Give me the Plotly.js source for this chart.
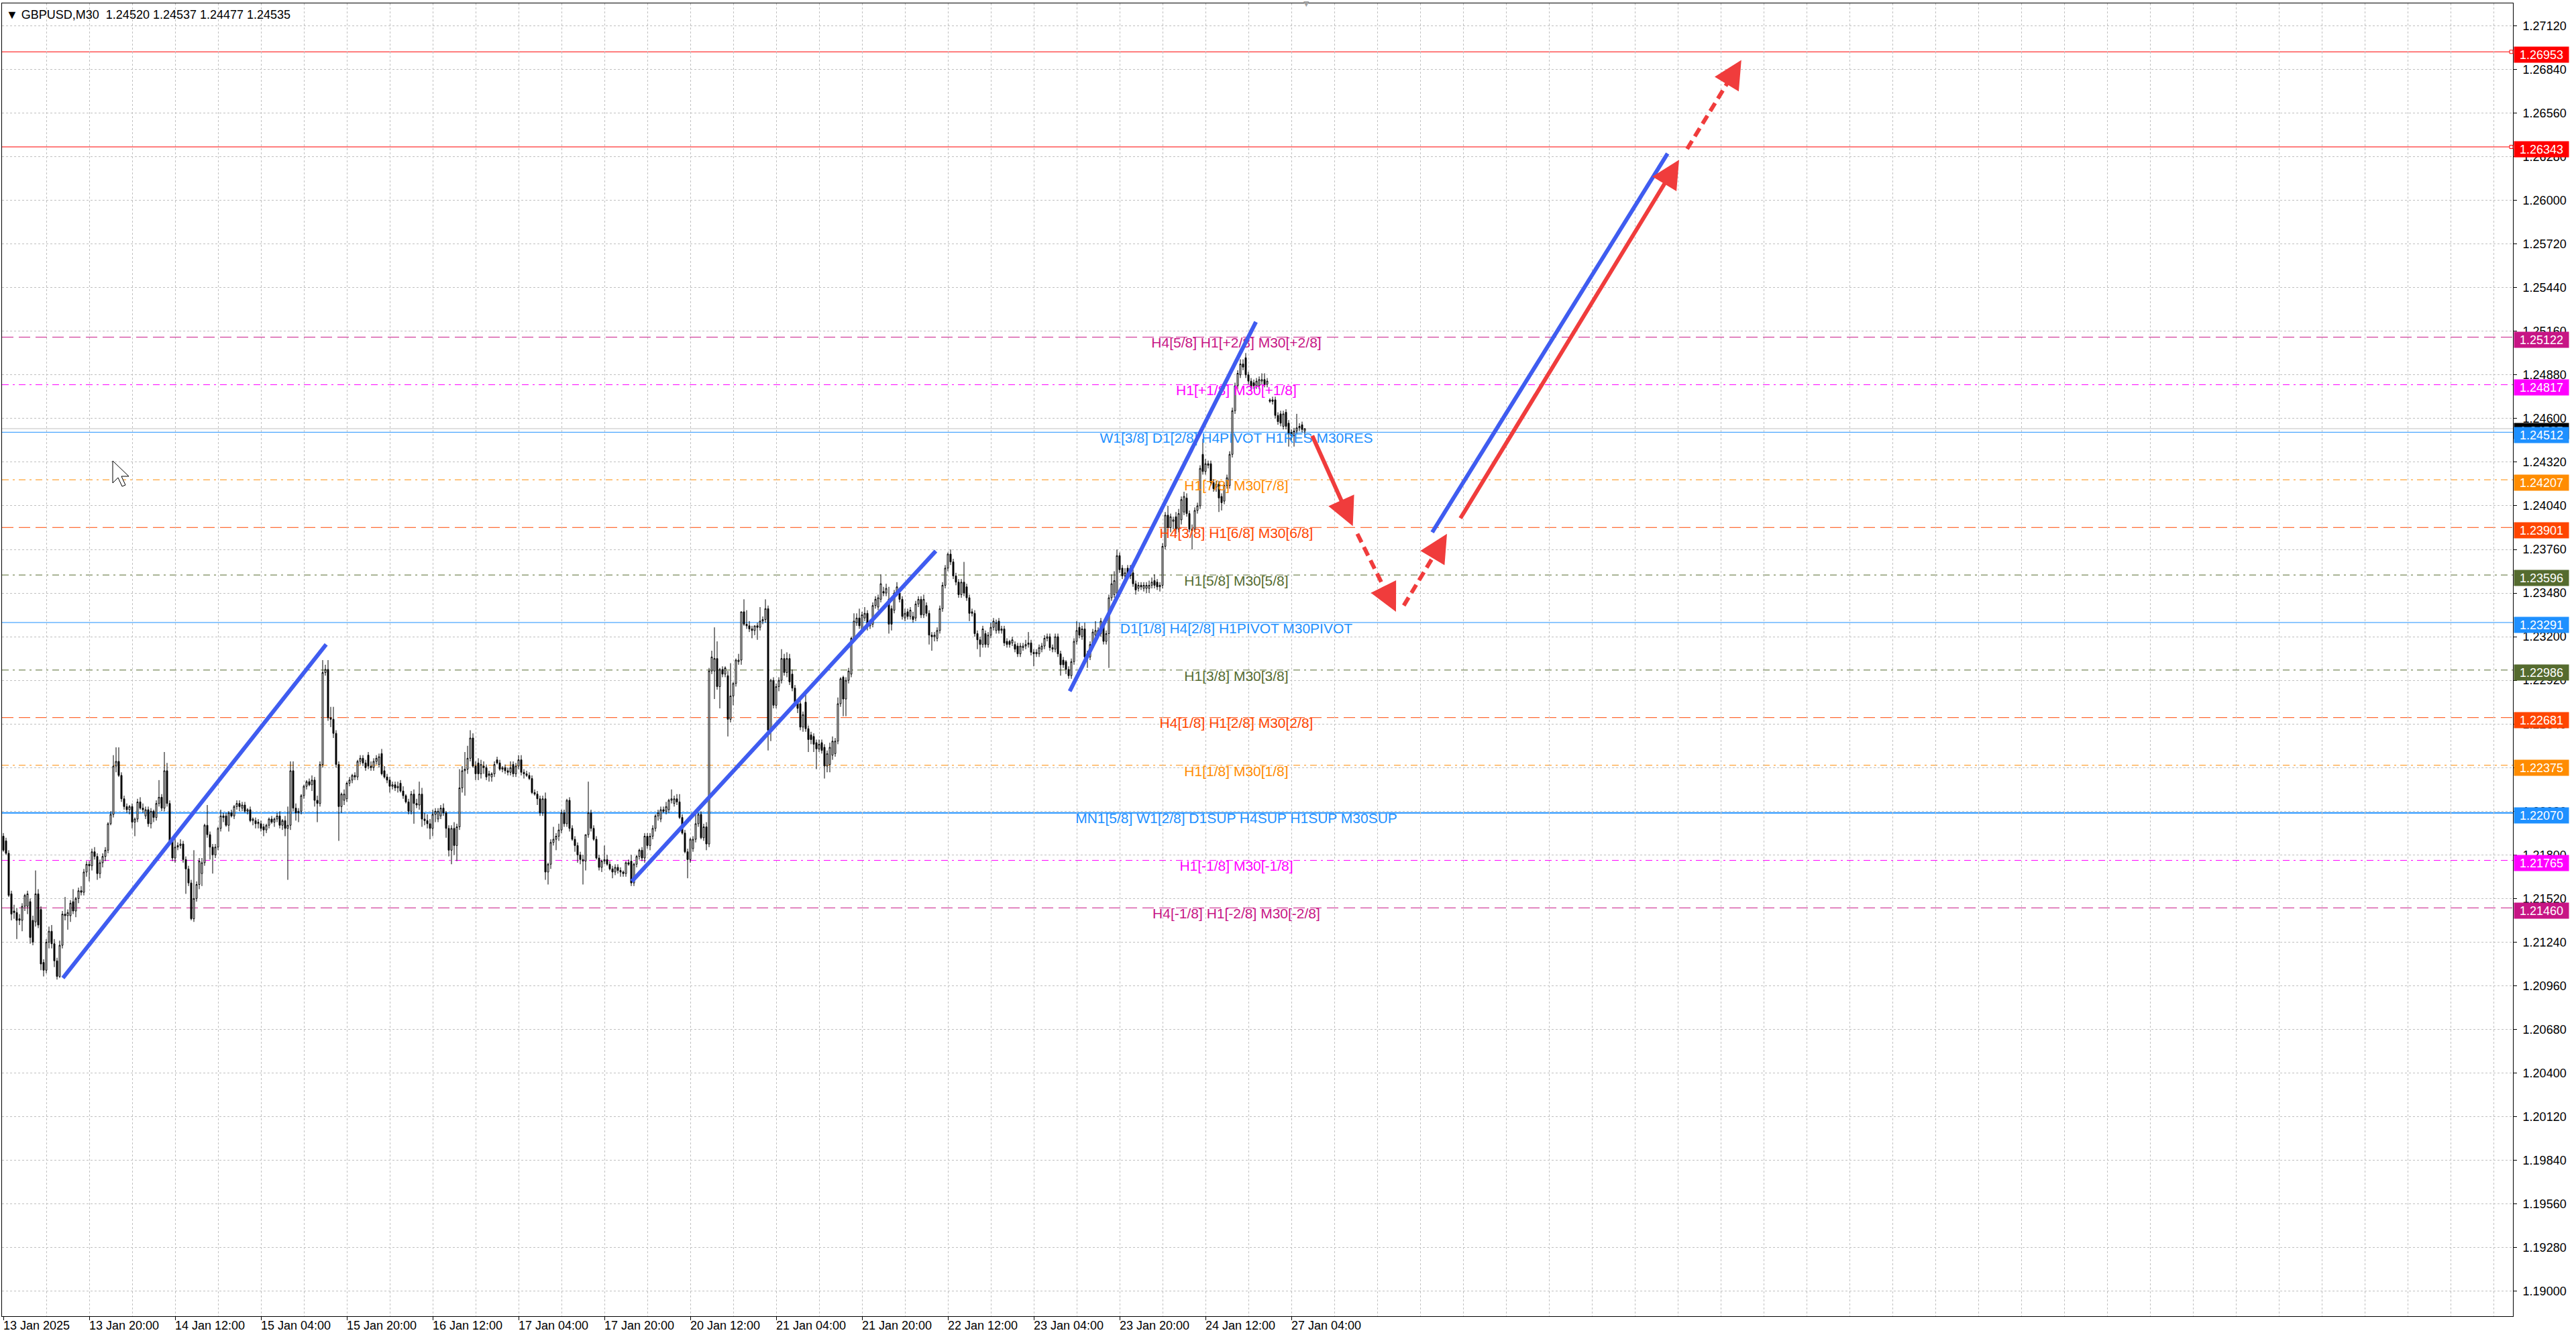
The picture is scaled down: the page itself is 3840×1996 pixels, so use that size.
<!DOCTYPE html>
<html><head><meta charset="utf-8">
<script src="https://cdn.plot.ly/plotly-3.0.1.min.js"></script>
<style>html,body{margin:0;padding:0;background:#fff;overflow:hidden}#chart{width:3840px;height:1996px}</style>
</head><body><div id="chart"></div>
<script>
// GBPUSD M30 candles, [open, high, low, close], bar 0 = 13 Jan 2025 04:00
const candlesOHLC = [
[1.2192,1.2194,1.2182,1.2183],[1.2189,1.2191,1.2180,1.2181],[1.2181,1.2183,1.2153,1.2154],[1.2155,1.2157,1.2138,1.2142],[1.2144,1.2148,1.2139,1.2143],
[1.2143,1.2146,1.2126,1.2138],[1.2139,1.2142,1.2135,1.2138],[1.2138,1.2149,1.2131,1.2147],[1.2147,1.2155,1.2144,1.2154],[1.2147,1.2157,1.2142,1.2155],
[1.2150,1.2152,1.2123,1.2127],[1.2138,1.2141,1.2122,1.2124],[1.2137,1.2170,1.2134,1.2155],[1.2155,1.2158,1.2133,1.2135],[1.2145,1.2147,1.2106,1.2110],
[1.2111,1.2113,1.2102,1.2106],[1.2106,1.2126,1.2104,1.2124],[1.2124,1.2134,1.2120,1.2131],[1.2131,1.2135,1.2120,1.2123],[1.2123,1.2126,1.2108,1.2112],
[1.2112,1.2114,1.2100,1.2102],[1.2102,1.2125,1.2101,1.2122],[1.2122,1.2144,1.2120,1.2142],[1.2142,1.2153,1.2138,1.2141],[1.2141,1.2145,1.2132,1.2143],
[1.2141,1.2151,1.2137,1.2149],[1.2150,1.2158,1.2142,1.2144],[1.2144,1.2153,1.2140,1.2152],[1.2152,1.2159,1.2149,1.2157],[1.2157,1.2160,1.2154,1.2156],
[1.2156,1.2171,1.2154,1.2169],[1.2169,1.2176,1.2166,1.2174],[1.2174,1.2176,1.2163,1.2173],[1.2173,1.2184,1.2170,1.2182],[1.2182,1.2185,1.2177,1.2179],
[1.2179,1.2181,1.2164,1.2168],[1.2168,1.2177,1.2165,1.2175],[1.2175,1.2181,1.2172,1.2179],[1.2179,1.2185,1.2176,1.2183],[1.2183,1.2201,1.2181,1.2200],
[1.2200,1.2208,1.2199,1.2206],[1.2206,1.2244,1.2204,1.2237],[1.2237,1.2249,1.2233,1.2240],[1.2240,1.2249,1.2230,1.2231],[1.2231,1.2233,1.2214,1.2216],
[1.2216,1.2218,1.2209,1.2211],[1.2211,1.2213,1.2207,1.2209],[1.2209,1.2212,1.2206,1.2211],[1.2211,1.2213,1.2197,1.2201],[1.2201,1.2204,1.2192,1.2203],
[1.2203,1.2216,1.2201,1.2214],[1.2214,1.2217,1.2209,1.2210],[1.2210,1.2213,1.2207,1.2209],[1.2205,1.2211,1.2203,1.2209],[1.2209,1.2211,1.2198,1.2200],
[1.2200,1.2210,1.2197,1.2208],[1.2208,1.2209,1.2201,1.2204],[1.2204,1.2215,1.2202,1.2213],[1.2213,1.2228,1.2211,1.2217],[1.2217,1.2219,1.2208,1.2210],
[1.2210,1.2246,1.2208,1.2234],[1.2234,1.2239,1.2211,1.2213],[1.2213,1.2215,1.2187,1.2189],[1.2189,1.2191,1.2176,1.2178],[1.2178,1.2192,1.2175,1.2185],
[1.2185,1.2188,1.2183,1.2186],[1.2186,1.2190,1.2184,1.2187],[1.2187,1.2189,1.2175,1.2177],[1.2177,1.2179,1.2155,1.2171],[1.2171,1.2173,1.2160,1.2162],
[1.2162,1.2164,1.2138,1.2139],[1.2139,1.2183,1.2137,1.2152],[1.2152,1.2163,1.2150,1.2161],[1.2161,1.2178,1.2158,1.2176],[1.2168,1.2178,1.2160,1.2175],
[1.2175,1.2200,1.2173,1.2199],[1.2199,1.2212,1.2191,1.2193],[1.2193,1.2195,1.2177,1.2185],[1.2185,1.2187,1.2168,1.2180],[1.2180,1.2187,1.2178,1.2185],
[1.2185,1.2198,1.2183,1.2197],[1.2197,1.2209,1.2195,1.2205],[1.2205,1.2207,1.2201,1.2204],[1.2205,1.2207,1.2198,1.2199],[1.2199,1.2208,1.2195,1.2207],
[1.2207,1.2209,1.2204,1.2205],[1.2205,1.2212,1.2203,1.2211],[1.2211,1.2215,1.2209,1.2213],[1.2213,1.2215,1.2208,1.2211],[1.2210,1.2214,1.2208,1.2212],
[1.2212,1.2214,1.2207,1.2208],[1.2208,1.2210,1.2206,1.2209],[1.2209,1.2211,1.2201,1.2202],[1.2202,1.2204,1.2199,1.2203],[1.2202,1.2204,1.2197,1.2200],
[1.2200,1.2203,1.2197,1.2201],[1.2200,1.2202,1.2195,1.2197],[1.2198,1.2200,1.2192,1.2196],[1.2196,1.2200,1.2194,1.2199],[1.2199,1.2204,1.2197,1.2203],
[1.2203,1.2205,1.2200,1.2201],[1.2201,1.2204,1.2198,1.2203],[1.2203,1.2207,1.2201,1.2205],[1.2205,1.2208,1.2197,1.2199],[1.2199,1.2203,1.2196,1.2202],
[1.2202,1.2205,1.2192,1.2197],[1.2197,1.2211,1.2164,1.2199],[1.2199,1.2240,1.2196,1.2234],[1.2234,1.2240,1.2208,1.2210],[1.2210,1.2213,1.2202,1.2207],
[1.2207,1.2210,1.2201,1.2208],[1.2208,1.2219,1.2206,1.2218],[1.2218,1.2225,1.2216,1.2224],[1.2224,1.2228,1.2222,1.2227],[1.2227,1.2229,1.2224,1.2225],
[1.2225,1.2231,1.2221,1.2228],[1.2228,1.2230,1.2211,1.2215],[1.2215,1.2218,1.2201,1.2213],[1.2213,1.2240,1.2211,1.2238],[1.2238,1.2305,1.2236,1.2297],
[1.2297,1.2302,1.2295,1.2299],[1.2299,1.2305,1.2266,1.2268],[1.2268,1.2275,1.2262,1.2267],[1.2267,1.2275,1.2255,1.2258],[1.2258,1.2260,1.2236,1.2238],
[1.2238,1.2240,1.2189,1.2211],[1.2211,1.2220,1.2207,1.2219],[1.2215,1.2222,1.2212,1.2219],[1.2216,1.2227,1.2214,1.2226],[1.2226,1.2230,1.2224,1.2228],
[1.2228,1.2232,1.2226,1.2231],[1.2231,1.2233,1.2228,1.2230],[1.2230,1.2241,1.2228,1.2240],[1.2240,1.2244,1.2238,1.2242],[1.2242,1.2244,1.2237,1.2239],
[1.2239,1.2241,1.2234,1.2236],[1.2244,1.2246,1.2235,1.2237],[1.2237,1.2240,1.2234,1.2236],[1.2236,1.2242,1.2234,1.2240],[1.2240,1.2244,1.2238,1.2242],
[1.2238,1.2245,1.2236,1.2243],[1.2245,1.2248,1.2231,1.2232],[1.2234,1.2237,1.2229,1.2230],[1.2230,1.2232,1.2226,1.2228],[1.2228,1.2230,1.2220,1.2224],
[1.2224,1.2227,1.2222,1.2225],[1.2225,1.2227,1.2221,1.2223],[1.2223,1.2227,1.2220,1.2224],[1.2226,1.2228,1.2220,1.2221],[1.2221,1.2224,1.2216,1.2218],
[1.2218,1.2219,1.2213,1.2214],[1.2214,1.2216,1.2206,1.2208],[1.2208,1.2221,1.2206,1.2219],[1.2219,1.2222,1.2200,1.2213],[1.2213,1.2216,1.2210,1.2212],
[1.2212,1.2227,1.2209,1.2219],[1.2219,1.2223,1.2198,1.2203],[1.2203,1.2207,1.2199,1.2202],[1.2202,1.2206,1.2197,1.2200],[1.2200,1.2203,1.2190,1.2197],
[1.2197,1.2209,1.2192,1.2206],[1.2206,1.2210,1.2201,1.2208],[1.2203,1.2210,1.2201,1.2208],[1.2205,1.2212,1.2203,1.2210],[1.2210,1.2213,1.2205,1.2207],
[1.2207,1.2208,1.2191,1.2197],[1.2197,1.2199,1.2179,1.2183],[1.2183,1.2199,1.2174,1.2197],[1.2197,1.2201,1.2180,1.2186],[1.2186,1.2200,1.2176,1.2198],
[1.2198,1.2235,1.2196,1.2223],[1.2223,1.2237,1.2220,1.2234],[1.2234,1.2246,1.2218,1.2235],[1.2235,1.2250,1.2232,1.2242],[1.2242,1.2260,1.2240,1.2255],
[1.2255,1.2258,1.2236,1.2237],[1.2237,1.2240,1.2228,1.2232],[1.2239,1.2242,1.2228,1.2232],[1.2232,1.2241,1.2229,1.2238],[1.2237,1.2240,1.2232,1.2236],
[1.2236,1.2238,1.2228,1.2230],[1.2232,1.2234,1.2227,1.2231],[1.2230,1.2233,1.2227,1.2232],[1.2232,1.2240,1.2230,1.2238],[1.2241,1.2243,1.2238,1.2239],
[1.2239,1.2241,1.2234,1.2235],[1.2235,1.2237,1.2233,1.2236],[1.2236,1.2238,1.2232,1.2234],[1.2234,1.2236,1.2231,1.2233],[1.2233,1.2240,1.2231,1.2236],
[1.2238,1.2240,1.2230,1.2232],[1.2232,1.2239,1.2230,1.2237],[1.2237,1.2244,1.2235,1.2241],[1.2241,1.2244,1.2231,1.2233],[1.2233,1.2235,1.2229,1.2232],
[1.2232,1.2234,1.2230,1.2231],[1.2231,1.2233,1.2228,1.2229],[1.2229,1.2231,1.2219,1.2220],[1.2220,1.2222,1.2218,1.2219],[1.2219,1.2221,1.2212,1.2216],
[1.2216,1.2218,1.2205,1.2207],[1.2207,1.2218,1.2205,1.2216],[1.2216,1.2220,1.2164,1.2169],[1.2169,1.2175,1.2161,1.2174],[1.2174,1.2190,1.2171,1.2188],
[1.2188,1.2198,1.2186,1.2190],[1.2190,1.2194,1.2183,1.2192],[1.2192,1.2200,1.2189,1.2196],[1.2196,1.2209,1.2194,1.2207],[1.2207,1.2209,1.2198,1.2200],
[1.2200,1.2216,1.2198,1.2215],[1.2215,1.2217,1.2195,1.2197],[1.2197,1.2199,1.2189,1.2190],[1.2190,1.2192,1.2182,1.2186],[1.2186,1.2188,1.2175,1.2180],
[1.2180,1.2182,1.2174,1.2177],[1.2177,1.2180,1.2161,1.2176],[1.2176,1.2193,1.2170,1.2193],[1.2193,1.2227,1.2191,1.2207],[1.2207,1.2209,1.2195,1.2197],
[1.2197,1.2199,1.2189,1.2190],[1.2190,1.2192,1.2177,1.2178],[1.2178,1.2180,1.2170,1.2172],[1.2172,1.2177,1.2169,1.2176],[1.2176,1.2186,1.2174,1.2177],
[1.2177,1.2180,1.2173,1.2174],[1.2174,1.2176,1.2170,1.2171],[1.2171,1.2173,1.2165,1.2169],[1.2169,1.2174,1.2167,1.2172],[1.2172,1.2174,1.2168,1.2170],
[1.2170,1.2172,1.2166,1.2169],[1.2169,1.2170,1.2166,1.2168],[1.2168,1.2176,1.2166,1.2175],[1.2175,1.2177,1.2173,1.2174],[1.2176,1.2180,1.2160,1.2162],
[1.2162,1.2175,1.2160,1.2174],[1.2174,1.2180,1.2172,1.2179],[1.2179,1.2184,1.2177,1.2183],[1.2183,1.2185,1.2176,1.2178],[1.2178,1.2194,1.2175,1.2192],
[1.2192,1.2194,1.2184,1.2186],[1.2186,1.2194,1.2183,1.2192],[1.2192,1.2199,1.2190,1.2197],[1.2197,1.2206,1.2195,1.2205],[1.2205,1.2209,1.2202,1.2207],
[1.2203,1.2211,1.2201,1.2209],[1.2209,1.2211,1.2207,1.2208],[1.2208,1.2214,1.2206,1.2211],[1.2209,1.2216,1.2207,1.2215],[1.2215,1.2222,1.2213,1.2216],
[1.2213,1.2218,1.2211,1.2216],[1.2216,1.2219,1.2212,1.2214],[1.2214,1.2219,1.2203,1.2204],[1.2204,1.2206,1.2193,1.2194],[1.2194,1.2196,1.2181,1.2182],
[1.2182,1.2184,1.2165,1.2177],[1.2177,1.2191,1.2175,1.2190],[1.2184,1.2192,1.2182,1.2190],[1.2190,1.2207,1.2188,1.2200],[1.2200,1.2207,1.2198,1.2206],
[1.2206,1.2208,1.2190,1.2191],[1.2191,1.2200,1.2189,1.2198],[1.2198,1.2201,1.2183,1.2187],[1.2187,1.2300,1.2185,1.2298],[1.2298,1.2311,1.2296,1.2307],
[1.2298,1.2326,1.2280,1.2306],[1.2306,1.2317,1.2286,1.2288],[1.2288,1.2300,1.2274,1.2299],[1.2299,1.2301,1.2294,1.2296],[1.2296,1.2301,1.2294,1.2300],
[1.2295,1.2298,1.2256,1.2267],[1.2267,1.2303,1.2265,1.2282],[1.2282,1.2291,1.2276,1.2290],[1.2290,1.2306,1.2288,1.2305],[1.2304,1.2309,1.2302,1.2305],
[1.2305,1.2336,1.2302,1.2336],[1.2336,1.2344,1.2327,1.2328],[1.2328,1.2337,1.2325,1.2327],[1.2327,1.2330,1.2323,1.2325],[1.2325,1.2327,1.2319,1.2324],
[1.2324,1.2327,1.2321,1.2327],[1.2327,1.2329,1.2318,1.2326],[1.2326,1.2339,1.2324,1.2330],[1.2330,1.2333,1.2328,1.2331],[1.2331,1.2344,1.2329,1.2338],
[1.2338,1.2340,1.2247,1.2260],[1.2260,1.2293,1.2253,1.2292],[1.2292,1.2294,1.2274,1.2276],[1.2276,1.2290,1.2274,1.2288],[1.2288,1.2294,1.2285,1.2292],
[1.2292,1.2312,1.2290,1.2306],[1.2306,1.2309,1.2295,1.2297],[1.2297,1.2310,1.2294,1.2306],[1.2306,1.2309,1.2289,1.2291],[1.2296,1.2299,1.2285,1.2287],
[1.2287,1.2289,1.2276,1.2278],[1.2278,1.2280,1.2271,1.2274],[1.2277,1.2279,1.2260,1.2262],[1.2262,1.2272,1.2259,1.2270],[1.2278,1.2283,1.2259,1.2261],
[1.2261,1.2263,1.2246,1.2254],[1.2257,1.2259,1.2251,1.2254],[1.2256,1.2258,1.2246,1.2251],[1.2252,1.2254,1.2235,1.2248],[1.2248,1.2254,1.2246,1.2251],
[1.2252,1.2254,1.2245,1.2247],[1.2249,1.2251,1.2229,1.2237],[1.2237,1.2247,1.2233,1.2245],[1.2238,1.2252,1.2233,1.2249],[1.2244,1.2256,1.2241,1.2253],
[1.2245,1.2255,1.2243,1.2253],[1.2253,1.2281,1.2251,1.2277],[1.2277,1.2294,1.2275,1.2293],[1.2294,1.2295,1.2269,1.2280],[1.2280,1.2294,1.2269,1.2292],
[1.2292,1.2300,1.2290,1.2298],[1.2296,1.2320,1.2294,1.2319],[1.2319,1.2335,1.2317,1.2330],[1.2329,1.2335,1.2327,1.2332],[1.2332,1.2338,1.2325,1.2327],
[1.2325,1.2336,1.2322,1.2334],[1.2332,1.2339,1.2330,1.2335],[1.2335,1.2337,1.2324,1.2327],[1.2327,1.2331,1.2325,1.2329],[1.2328,1.2342,1.2326,1.2340],
[1.2340,1.2346,1.2338,1.2344],[1.2339,1.2347,1.2337,1.2345],[1.2344,1.2360,1.2342,1.2354],[1.2349,1.2352,1.2346,1.2348],[1.2348,1.2354,1.2346,1.2351],
[1.2344,1.2352,1.2322,1.2328],[1.2338,1.2340,1.2324,1.2328],[1.2337,1.2350,1.2335,1.2348],[1.2348,1.2355,1.2346,1.2352],[1.2348,1.2351,1.2342,1.2344],
[1.2344,1.2346,1.2331,1.2333],[1.2332,1.2338,1.2330,1.2335],[1.2336,1.2338,1.2331,1.2333],[1.2333,1.2339,1.2331,1.2337],[1.2333,1.2336,1.2329,1.2331],
[1.2332,1.2343,1.2330,1.2341],[1.2341,1.2346,1.2339,1.2344],[1.2344,1.2346,1.2332,1.2334],[1.2334,1.2347,1.2332,1.2344],[1.2340,1.2342,1.2333,1.2335],
[1.2335,1.2337,1.2315,1.2321],[1.2321,1.2323,1.2311,1.2320],[1.2320,1.2323,1.2317,1.2321],[1.2319,1.2326,1.2317,1.2324],[1.2324,1.2340,1.2322,1.2338],
[1.2338,1.2355,1.2336,1.2353],[1.2353,1.2366,1.2351,1.2364],[1.2364,1.2374,1.2362,1.2373],[1.2373,1.2376,1.2366,1.2368],[1.2368,1.2370,1.2357,1.2359],
[1.2359,1.2361,1.2353,1.2355],[1.2355,1.2357,1.2345,1.2347],[1.2347,1.2357,1.2345,1.2355],[1.2355,1.2368,1.2346,1.2348],[1.2352,1.2354,1.2343,1.2345],
[1.2345,1.2347,1.2330,1.2335],[1.2336,1.2338,1.2333,1.2335],[1.2335,1.2337,1.2320,1.2322],[1.2322,1.2324,1.2312,1.2318],[1.2318,1.2320,1.2307,1.2315],
[1.2315,1.2327,1.2313,1.2325],[1.2322,1.2324,1.2313,1.2315],[1.2315,1.2323,1.2313,1.2321],[1.2321,1.2329,1.2319,1.2326],[1.2326,1.2332,1.2324,1.2330],
[1.2324,1.2331,1.2322,1.2329],[1.2330,1.2332,1.2322,1.2324],[1.2324,1.2327,1.2322,1.2325],[1.2325,1.2327,1.2314,1.2316],[1.2317,1.2319,1.2313,1.2315],
[1.2317,1.2318,1.2313,1.2315],[1.2316,1.2320,1.2314,1.2318],[1.2315,1.2317,1.2310,1.2312],[1.2314,1.2316,1.2307,1.2309],[1.2309,1.2316,1.2307,1.2314],
[1.2313,1.2316,1.2311,1.2314],[1.2314,1.2318,1.2312,1.2315],[1.2315,1.2323,1.2313,1.2316],[1.2316,1.2318,1.2308,1.2310],[1.2310,1.2312,1.2301,1.2309],
[1.2309,1.2312,1.2307,1.2310],[1.2309,1.2315,1.2307,1.2313],[1.2312,1.2316,1.2310,1.2314],[1.2314,1.2321,1.2312,1.2319],[1.2319,1.2322,1.2317,1.2320],
[1.2320,1.2322,1.2311,1.2313],[1.2313,1.2315,1.2310,1.2312],[1.2312,1.2322,1.2310,1.2320],[1.2320,1.2322,1.2307,1.2309],[1.2309,1.2311,1.2295,1.2302],
[1.2305,1.2307,1.2300,1.2302],[1.2304,1.2305,1.2296,1.2299],[1.2299,1.2301,1.2293,1.2295],[1.2295,1.2306,1.2293,1.2304],[1.2304,1.2319,1.2302,1.2317],
[1.2317,1.2330,1.2315,1.2324],[1.2326,1.2329,1.2319,1.2321],[1.2320,1.2327,1.2318,1.2325],[1.2325,1.2329,1.2305,1.2307],[1.2309,1.2311,1.2300,1.2307],
[1.2307,1.2317,1.2305,1.2315],[1.2315,1.2325,1.2313,1.2323],[1.2321,1.2330,1.2319,1.2324],[1.2324,1.2326,1.2320,1.2322],[1.2322,1.2332,1.2320,1.2330],
[1.2327,1.2329,1.2315,1.2317],[1.2317,1.2324,1.2315,1.2322],[1.2322,1.2347,1.2300,1.2345],[1.2345,1.2360,1.2343,1.2354],[1.2347,1.2362,1.2345,1.2356],
[1.2348,1.2376,1.2346,1.2372],[1.2372,1.2374,1.2361,1.2363],[1.2364,1.2366,1.2357,1.2359],[1.2359,1.2364,1.2357,1.2361],[1.2364,1.2366,1.2358,1.2360],
[1.2364,1.2366,1.2357,1.2359],[1.2361,1.2363,1.2352,1.2354],[1.2354,1.2356,1.2347,1.2350],[1.2351,1.2355,1.2349,1.2353],[1.2353,1.2355,1.2350,1.2352],
[1.2351,1.2355,1.2349,1.2353],[1.2351,1.2355,1.2348,1.2353],[1.2351,1.2356,1.2348,1.2353],[1.2353,1.2358,1.2351,1.2355],[1.2356,1.2360,1.2351,1.2353],
[1.2355,1.2357,1.2350,1.2352],[1.2352,1.2355,1.2349,1.2353],[1.2353,1.2380,1.2351,1.2378],[1.2378,1.2400,1.2376,1.2398],[1.2398,1.2404,1.2388,1.2390],
[1.2390,1.2399,1.2387,1.2397],[1.2394,1.2397,1.2389,1.2395],[1.2397,1.2400,1.2386,1.2389],[1.2389,1.2402,1.2387,1.2399],[1.2395,1.2410,1.2392,1.2408],
[1.2400,1.2413,1.2398,1.2410],[1.2409,1.2412,1.2397,1.2399],[1.2399,1.2401,1.2387,1.2389],[1.2389,1.2392,1.2376,1.2388],[1.2389,1.2403,1.2387,1.2401],
[1.2401,1.2406,1.2399,1.2404],[1.2404,1.2430,1.2402,1.2428],[1.2437,1.2447,1.2424,1.2426],[1.2426,1.2434,1.2424,1.2431],[1.2431,1.2433,1.2428,1.2430],
[1.2431,1.2433,1.2417,1.2419],[1.2419,1.2421,1.2413,1.2415],[1.2416,1.2420,1.2413,1.2418],[1.2418,1.2420,1.2400,1.2409],[1.2410,1.2412,1.2401,1.2406],
[1.2407,1.2419,1.2405,1.2417],[1.2417,1.2424,1.2415,1.2422],[1.2417,1.2439,1.2415,1.2437],[1.2437,1.2467,1.2435,1.2465],[1.2465,1.2483,1.2463,1.2481],
[1.2481,1.2491,1.2479,1.2489],[1.2488,1.2498,1.2486,1.2495],[1.2495,1.2498,1.2491,1.2493],[1.2499,1.2502,1.2486,1.2488],[1.2488,1.2490,1.2482,1.2484],
[1.2484,1.2486,1.2478,1.2480],[1.2483,1.2485,1.2479,1.2481],[1.2481,1.2486,1.2479,1.2484],[1.2481,1.2487,1.2479,1.2485],[1.2484,1.2489,1.2482,1.2485],
[1.2485,1.2489,1.2480,1.2482],[1.2482,1.2486,1.2480,1.2484],[1.2472,1.2473,1.2470,1.2471],[1.2472,1.2474,1.2469,1.2471],[1.2472,1.2474,1.2460,1.2462],
[1.2462,1.2464,1.2456,1.2458],[1.2463,1.2465,1.2455,1.2457],[1.2455,1.2465,1.2453,1.2463],[1.2464,1.2466,1.2453,1.2455],[1.2457,1.2459,1.2442,1.2450],
[1.2451,1.2453,1.2446,1.2449],[1.2449,1.2454,1.2442,1.2452],[1.2452,1.2463,1.2450,1.2454],[1.2454,1.2457,1.2452,1.2455],[1.2456,1.2458,1.2451,1.2453],
[1.24520,1.24537,1.24477,1.24535]
];

const chartTitle = 'GBPUSD,M30  1.24520 1.24537 1.24477 1.24535';
const xTickBars = [0,32,64,96,128,160,192,224,256,288,320,352,384,416,448,480];
const xTickLabels = ['13 Jan 2025','13 Jan 20:00','14 Jan 12:00','15 Jan 04:00','15 Jan 20:00','16 Jan 12:00','17 Jan 04:00','17 Jan 20:00',
  '20 Jan 12:00','21 Jan 04:00','21 Jan 20:00','22 Jan 12:00','23 Jan 04:00','23 Jan 20:00','24 Jan 12:00','27 Jan 04:00'];
const yTickFirst = 1.19000, yTickStep = 0.0028, yTickCount = 30;

const levelPrices = [1.26953,1.26343,1.25122,1.24817,1.24512,1.24207,1.23901,1.23596,1.23291,1.22986,1.22681,1.22375,1.22070,1.21765,1.21460];
const levelColors = ['#ff0000','#ff0000','#c71585','#ff00ff','#1e90ff','#ff8c00','#ff4500','#556b2f','#1e90ff','#556b2f','#ff4500','#ff8c00','#1e90ff','#ff00ff','#c71585'];
const levelDash = ['solid','solid','17px,8px','10px,6px,3px,6px','solid','10px,6px,3px,6px','17px,8px','10px,6px,3px,6px','solid','10px,6px,3px,6px','17px,8px','10px,6px,3px,6px','solid','10px,6px,3px,6px','17px,8px'];
const levelWidth = [1,1,1,1,1,1,1,1,1,1,1,1,2,1,1];
const levelLabels = ['','','H4[5/8] H1[+2/8] M30[+2/8]','H1[+1/8] M30[+1/8]','W1[3/8] D1[2/8] H4PIVOT H1RES M30RES','H1[7/8] M30[7/8]',
  'H4[3/8] H1[6/8] M30[6/8]','H1[5/8] M30[5/8]','D1[1/8] H4[2/8] H1PIVOT M30PIVOT','H1[3/8] M30[3/8]','H4[1/8] H1[2/8] M30[2/8]','H1[1/8] M30[1/8]',
  'MN1[5/8] W1[2/8] D1SUP H4SUP H1SUP M30SUP','H1[-1/8] M30[-1/8]','H4[-1/8] H1[-2/8] M30[-2/8]'];
const bidPrice = 1.24535;

// blue trend lines (bar index, price)
const trendFromBar = [22.2, 234.2, 397.4, 532.5];
const trendFromPrice = [1.2101, 1.2163, 1.2285, 1.2387];
const trendToBar = [120.3, 347.5, 466.8, 620.2];
const trendToPrice = [1.2315, 1.2375, 1.2522, 1.2630];
// red forecast arrows
const arrowFromBar = [487.8, 504.6, 521.9, 543.0, 627.5];
const arrowFromPrice = [1.2449, 1.2386, 1.2340, 1.2396, 1.2633];
const arrowToBar = [502.9, 519.0, 538.0, 624.5, 647.7];
const arrowToPrice = [1.2391, 1.2336, 1.2386, 1.2626, 1.2690];
const arrowDashed = [false, true, true, false, true];

// ---------- build ----------
const FONT = 'Liberation Sans, Arial, sans-serif';
const nBars = candlesOHLC.length;
const barIdx = candlesOHLC.map((_, i) => i);
const xRange = [-0.5, 935.25];
const yRange = [1.18840, 1.27264];
const plotW = 3743, plotH = 1957;
const pxPerBar = plotW / (xRange[1] - xRange[0]);
const pxPerPrice = plotH / (yRange[1] - yRange[0]);

const yTickVals = [], yTickText = [];
for (let k = 0; k < yTickCount; k++) { const v = yTickFirst + k * yTickStep; yTickVals.push(v); yTickText.push(v.toFixed(5)); }
const gridBars = []; for (let b = 16; b < xRange[1]; b += 16) gridBars.push(b);

const labelBar = nBars - 26.5;
const lblIdx = levelLabels.map((t, i) => i).filter(i => levelLabels[i] !== '');

const traces = [
  { type: 'scatter', mode: 'text', x: lblIdx.map(() => labelBar), y: lblIdx.map(i => levelPrices[i]),
    text: lblIdx.map(i => levelLabels[i]), textposition: 'bottom center',
    textfont: { family: FONT, size: 21, color: lblIdx.map(i => levelColors[i]) }, hoverinfo: 'skip', showlegend: false },
  { type: 'candlestick', x: barIdx, open: candlesOHLC.map(c => c[0]), high: candlesOHLC.map(c => c[1]),
    low: candlesOHLC.map(c => c[2]), close: candlesOHLC.map(c => c[3]),
    increasing: { line: { color: '#000000', width: 1 }, fillcolor: '#ffffff' },
    decreasing: { line: { color: '#000000', width: 1 }, fillcolor: '#000000' },
    whiskerwidth: 0, hoverinfo: 'skip', showlegend: false }
];

const shapes = [];
levelPrices.forEach((p, i) => {
  shapes.push({ type: 'line', layer: 'below', xref: 'paper', x0: 0, x1: 1, yref: 'y', y0: p, y1: p,
    line: { color: levelColors[i], width: levelWidth[i], dash: levelDash[i] } });
});
shapes.push({ type: 'line', layer: 'below', xref: 'paper', x0: 0, x1: 1, yref: 'y', y0: bidPrice, y1: bidPrice, line: { color: '#c0c0c0', width: 1 } });
[0, 1].forEach(i => shapes.push({ type: 'rect', xref: 'paper', xsizemode: 'pixel', xanchor: 1, x0: -5, x1: 0,
  yref: 'y', ysizemode: 'pixel', yanchor: levelPrices[i], y0: -2.5, y1: 2.5, line: { color: '#ff0000', width: 1 }, fillcolor: '#ffffff' }));
trendFromBar.forEach((b, i) => shapes.push({ type: 'line', layer: 'above', xref: 'x', yref: 'y',
  x0: b, y0: trendFromPrice[i], x1: trendToBar[i], y1: trendToPrice[i], line: { color: '#3f5cf0', width: 6 } }));
// mouse pointer left in the screenshot
shapes.push({ type: 'path', layer: 'above', xref: 'paper', xsizemode: 'pixel', xanchor: 0, yref: 'paper', ysizemode: 'pixel', yanchor: 1,
  path: 'M165,-682 L165,-715 L173,-707 L179,-720 L184,-718 L178,-705 L189,-705 Z', line: { color: '#000', width: 1 }, fillcolor: '#ffffff' });

const annotations = [];
const red = '#f03c3c';
arrowFromBar.forEach((b, i) => {
  const dxp = (arrowToBar[i] - b) * pxPerBar, dyp = (arrowToPrice[i] - arrowFromPrice[i]) * pxPerPrice;
  const len = Math.hypot(dxp, dyp), f = Math.min(1, 24 / len);
  const tailBar = arrowToBar[i] - f * (arrowToBar[i] - b), tailPrice = arrowToPrice[i] - f * (arrowToPrice[i] - arrowFromPrice[i]);
  shapes.push({ type: 'line', layer: 'above', xref: 'x', yref: 'y', x0: b, y0: arrowFromPrice[i], x1: tailBar, y1: tailPrice,
    line: { color: red, width: 6, dash: arrowDashed[i] ? '14px,8px' : 'solid' } });
  annotations.push({ x: arrowToBar[i], y: arrowToPrice[i], xref: 'x', yref: 'y', ax: tailBar, ay: tailPrice, axref: 'x', ayref: 'y',
    showarrow: true, arrowhead: 2, arrowsize: 1.4, arrowwidth: 6, arrowcolor: red, text: '', standoff: 0 });
});

// x labels, left-aligned at their ticks
xTickBars.forEach((b, i) => annotations.push({ x: b, xref: 'x', y: 0, yref: 'paper', yanchor: 'top', xanchor: 'left',
  xshift: -2, yshift: -2, showarrow: false, text: xTickLabels[i], font: { family: FONT, size: 18, color: '#000' } }));

// price boxes on the right axis
const boxOrder = [0, 1, 2, 3, -1, 4, 5, 6, 7, 8, 9, 10, 11, 12, 13, 14];
boxOrder.forEach(i => {
  const p = i < 0 ? bidPrice : levelPrices[i], c = i < 0 ? '#000000' : levelColors[i];
  annotations.push({ x: 1, xref: 'paper', xanchor: 'left', xshift: 1, y: p, yref: 'y', yanchor: 'middle', yshift: -4,
    showarrow: false, text: p.toFixed(5), bgcolor: c, width: 77, height: 19, borderpad: 2, align: 'center',
    font: { family: FONT, size: 18, color: '#ffffff' } });
});

annotations.push({ x: 0, xref: 'paper', xanchor: 'left', xshift: 4, y: 1, yref: 'paper', yanchor: 'top', yshift: -5,
  showarrow: false, text: '\u25BC\u00a0' + chartTitle.replace(/ /g, '\u00a0'), font: { family: FONT, size: 18, color: '#000' } });
annotations.push({ x: nBars - 0.5, xref: 'x', y: 1, yref: 'paper', yanchor: 'middle', yshift: 0, showarrow: false,
  text: '\u25BC', font: { family: 'DejaVu Sans', size: 11, color: '#a0a0a0' } });

const layout = {
  width: 3840, height: 1996, margin: { l: 3, r: 94, t: 5, b: 34, pad: 0 },
  paper_bgcolor: '#ffffff', plot_bgcolor: '#ffffff', showlegend: false, hovermode: false, dragmode: false,
  xaxis: { type: 'linear', range: xRange, fixedrange: true, rangeslider: { visible: false }, zeroline: false,
    tickmode: 'array', tickvals: gridBars, ticktext: gridBars.map(() => ''), ticks: '', showgrid: true,
    gridcolor: '#c0c0c0', griddash: '3px,3px', gridwidth: 1,
    minor: { tickmode: 'array', tickvals: xTickBars, ticks: 'outside', ticklen: 5, tickcolor: '#000', showgrid: false },
    showline: true, mirror: true, linecolor: '#000', linewidth: 1 },
  yaxis: { range: yRange, fixedrange: true, side: 'right', zeroline: false, tickmode: 'array', tickvals: yTickVals, ticktext: yTickText,
    ticks: 'outside', ticklen: 5, tickcolor: '#000', ticklabelstandoff: 5, tickfont: { family: FONT, size: 18, color: '#000' },
    showgrid: true, gridcolor: '#c0c0c0', griddash: '3px,3px', gridwidth: 1,
    showline: true, mirror: true, linecolor: '#000', linewidth: 1 },
  shapes: shapes, annotations: annotations
};
Plotly.newPlot('chart', traces, layout, { staticPlot: true, displayModeBar: false });
</script></body></html>
